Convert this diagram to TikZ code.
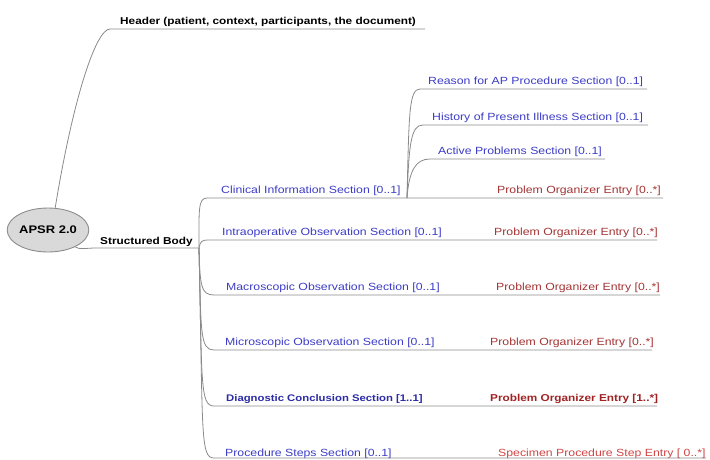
\documentclass[tikz,border=0pt]{standalone}
\usepackage{fontspec}
\setmainfont{Liberation Sans}[FakeStretch=1.18]
\usetikzlibrary{shapes.geometric}
\definecolor{linegray}{HTML}{8A8A8A}
\definecolor{secblue}{HTML}{3C3CC6}
\definecolor{secbluebold}{HTML}{2B2BA6}
\definecolor{entred}{HTML}{A33434}
\definecolor{entredbold}{HTML}{A02222}
\definecolor{specred}{HTML}{D04444}
\definecolor{rootfill}{HTML}{D9D9D9}
\definecolor{rootdraw}{HTML}{8C8C8C}
\begin{document}
\begin{tikzpicture}[x=1pt,y=-1pt,
  conn/.style={draw=linegray, line width=0.8pt},
  lbl/.style={anchor=base west, inner sep=0pt, font=\fontsize{10.4}{12}\selectfont},
  blk/.style={lbl, font=\bfseries\fontsize{10}{12}\selectfont, text=black},
  sec/.style={lbl, text=secblue},
  secb/.style={lbl, font=\bfseries\fontsize{9.6}{12}\selectfont, text=secbluebold},
  ent/.style={lbl, text=entred},
  entb/.style={lbl, font=\bfseries\fontsize{10}{12}\selectfont, text=entredbold},
  spec/.style={lbl, text=specred}]
\useasboundingbox (0,0) rectangle (710,459);

% root
\node[ellipse, draw=rootdraw, fill=rootfill, line width=0.9pt,
      minimum width=78pt, minimum height=44pt, inner sep=0pt,
      font=\bfseries\fontsize{11}{13}\selectfont] (root) at (48,230) {APSR 2.0};

% header
\coordinate (hdrS) at (110,29);
\coordinate (hdrE) at (425,29);
\node[blk] (hdr) at (120,24) {Header (patient, context, participants, the document)};
\draw[conn] (root.72) .. controls +(18,-110) and +(-14,0) .. (hdrS) -- (hdrE);

% structured body
\coordinate (sbS) at (94,248);
\coordinate (br) at (199,248);
\node[blk] (sb) at (100,244) {Structured Body};
\draw[conn] (root.-32) .. controls +(4,3) and +(-6,0) .. (sbS) -- (br);

% clinical information
\coordinate (clS) at (207,198);
\coordinate (clB) at (407,198);
\coordinate (clE) at (663,198);
\node[sec] (cl) at (221,193) {Clinical Information Section [0..1]};
\node[ent] (clp) at (497,193) {Problem Organizer Entry [0..*]};
\draw[conn] (br) .. controls +(0,-38) and +(-9,0) .. (clS) -- (clE);

% sub-branches
\coordinate (reS) at (420,89);
\coordinate (reE) at (647,89);
\node[sec] (re) at (428,84) {Reason for AP Procedure Section [0..1]};
\draw[conn] (clB) .. controls +(2,-85) and +(-11,0) .. (reS) -- (reE);

\coordinate (hiS) at (423,125);
\coordinate (hiE) at (648,125);
\node[sec] (hi) at (432,120) {History of Present Illness Section [0..1]};
\draw[conn] (clB) .. controls +(2,-55) and +(-12,0) .. (hiS) -- (hiE);

\coordinate (acS) at (430,159);
\coordinate (acE) at (605,159);
\node[sec] (ac) at (438,154) {Active Problems Section [0..1]};
\draw[conn] (clB) .. controls +(2,-28) and +(-14,0) .. (acS) -- (acE);

% intraoperative
\coordinate (inS) at (207,240);
\coordinate (inE) at (657,240);
\node[sec] (in) at (222,235) {Intraoperative Observation Section [0..1]};
\node[ent] (inp) at (494,235) {Problem Organizer Entry [0..*]};
\draw[conn] (br) .. controls +(1,-6) and +(-5,0) .. (inS) -- (inE);

% macroscopic
\coordinate (maS) at (214,295);
\coordinate (maE) at (660,295);
\node[sec] (ma) at (226,290) {Macroscopic Observation Section [0..1]};
\node[ent] (map) at (496,290) {Problem Organizer Entry [0..*]};
\draw[conn] (br) .. controls +(1,38) and +(-13,0) .. (maS) -- (maE);

% microscopic
\coordinate (miS) at (214,350);
\coordinate (miE) at (652,350);
\node[sec] (mi) at (225,345) {Microscopic Observation Section [0..1]};
\node[ent] (mip) at (490,345) {Problem Organizer Entry [0..*]};
\draw[conn] (br) .. controls +(2,85) and +(-14,0) .. (miS) -- (miE);

% diagnostic conclusion
\coordinate (diS) at (214,406);
\coordinate (diE) at (657,406);
\node[secb] (di) at (226,401) {Diagnostic Conclusion Section [1..1]};
\node[entb] (dip) at (490,401) {Problem Organizer Entry [1..*]};
\draw[conn] (br) .. controls +(3,135) and +(-14,0) .. (diS) -- (diE);

% procedure steps
\coordinate (prS) at (214,458);
\coordinate (prE) at (706,458);
\node[sec] (pr) at (225,456) {Procedure Steps Section [0..1]};
\node[spec] (prp) at (498,456) {Specimen Procedure Step Entry [ 0..*]};
\draw[conn] (br) .. controls +(4,185) and +(-14,0) .. (prS) -- (prE);
\end{tikzpicture}
\end{document}
